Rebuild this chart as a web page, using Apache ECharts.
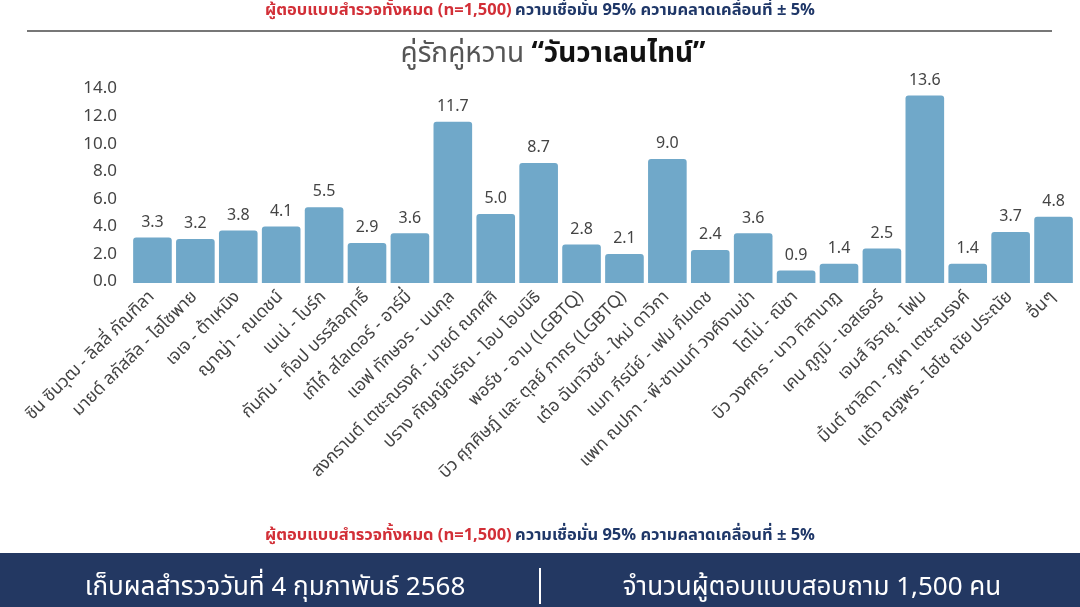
<!DOCTYPE html>
<html>
<head>
<meta charset="utf-8">
<script src="https://cdn.jsdelivr.net/npm/echarts@6/dist/echarts.min.js"></script>
<style>
  html, body { margin: 0; padding: 0; background: #fff; }
  #main { width: 1080px; height: 607px; }
</style>
</head>
<body>
<div id="main"></div>
<script>
var couples = [
  'ซิน ซินวุฒ - ลิลลี่ ภัณฑิลา',
  'มายด์ ลภัสลัล - ไฮโซพาย',
  'เจเจ - ต้าเหนิง',
  'ญาญ่า - ณเดชน์',
  'เนเน่ - โบร์ก',
  'กันกัน - ท็อป บรรลือฤทธิ์',
  'เก๋ไก๋ สไลเดอร์ - อาร์มี่',
  'แอฟ ทักษอร - นนกุล',
  'สงกรานต์ เตชะณรงค์ - มายด์ ณภศศิ',
  'ปราง กัญญ์ณรัณ - โอบ โอบนิธิ',
  'พอร์ช - อาม (LGBTQ)',
  'บิว ศุภศิษฏ์ และ ตุลย์ ภากร (LGBTQ)',
  'เต๋อ ฉันทวิชช์ - ใหม่ ดาวิกา',
  'แมท ภีรนีย์ - เฟม ภีมเดช',
  'แพท ณปภา - พี-ชานนท์ วงศ์งามข่า',
  'โตโน่ - ณิชา',
  'บิว วงศกร - นาว ทิสานาฏ',
  'เคน ภูภูมิ - เอสเธอร์',
  'เจมส์ จิรายุ - โฟม',
  'มิ้นต์ ชาลิดา - ภูผา เตชะณรงค์',
  'แต้ว ณฐพร - ไฮโซ ณัย ประณัย',
  'อื่นๆ'
];
var percents = [3.3, 3.2, 3.8, 4.1, 5.5, 2.9, 3.6, 11.7, 5.0, 8.7, 2.8, 2.1, 9.0, 2.4, 3.6, 0.9, 1.4, 2.5, 13.6, 1.4, 3.7, 4.8];

var FONT = "'Noto Sans Thai', 'Noto Sans', 'DejaVu Sans', sans-serif";
var noteText = '{r|ผู้ตอบแบบสำรวจทั้งหมด (n=1,500)} {b|ความเชื่อมั่น 95% ความคลาดเคลื่อนที่ ± 5%}';
var noteRich = {
  r: { fontSize: 16.5, fontWeight: 'bold', fill: '#d22f37', fontFamily: FONT },
  b: { fontSize: 16.5, fontWeight: 'bold', fill: '#1f3768', fontFamily: FONT }
};

var myChart = echarts.init(document.getElementById('main'));

var option = {
  backgroundColor: '#ffffff',
  textStyle: { fontFamily: FONT },
  grid: { left: 131, right: 5, top: 90, bottom: 324, containLabel: false },
  xAxis: {
    type: 'category',
    data: couples,
    axisLine: { show: false },
    axisTick: { show: false },
    axisLabel: {
      interval: 0,
      rotate: 45,
      fontSize: 17.5,
      color: '#444',
      margin: 12,
      fontFamily: FONT
    }
  },
  yAxis: {
    type: 'value',
    min: 0,
    max: 14,
    interval: 2,
    splitLine: { show: false },
    axisLine: { show: false },
    axisTick: { show: false },
    axisLabel: {
      fontSize: 17,
      color: '#444',
      margin: 14,
      fontFamily: FONT,
      formatter: function (v) { return v.toFixed(1); }
    }
  },
  series: [{
    type: 'bar',
    data: percents,
    barCategoryGap: '10%',
    itemStyle: { color: '#70a8c9', borderRadius: [3, 3, 0, 0] },
    label: {
      show: true,
      position: 'top',
      fontSize: 16,
      color: '#444',
      distance: 6,
      fontFamily: FONT,
      formatter: function (p) { return p.value.toFixed(1); }
    }
  }],
  graphic: [
    { type: 'text', left: 'center', top: 3, style: { text: noteText, rich: noteRich } },
    { type: 'rect', shape: { x: 27, y: 30, width: 1025, height: 2 }, style: { fill: '#777' } },
    {
      type: 'text', x: 553, y: 56,
      style: {
        text: '{a|คู่รักคู่หวาน }{b|“วันวาเลนไทน์”}',
        align: 'center', verticalAlign: 'middle',
        rich: {
          a: { fontSize: 28, fill: '#555', fontFamily: FONT },
          b: { fontSize: 28, fontWeight: 'bold', fill: '#111', fontFamily: FONT }
        }
      }
    },
    { type: 'text', left: 'center', top: 528, style: { text: noteText, rich: noteRich } },
    { type: 'rect', shape: { x: 0, y: 553, width: 1080, height: 54 }, style: { fill: '#233862' } },
    { type: 'rect', shape: { x: 539, y: 568, width: 2, height: 36 }, style: { fill: '#ffffff' } },
    {
      type: 'text', x: 275, y: 590,
      style: { text: 'เก็บผลสำรวจวันที่ 4 กุมภาพันธ์ 2568', fill: '#fff', fontSize: 26, fontFamily: FONT, align: 'center', verticalAlign: 'middle' }
    },
    {
      type: 'text', x: 812, y: 590,
      style: { text: 'จำนวนผู้ตอบแบบสอบถาม 1,500 คน', fill: '#fff', fontSize: 26, fontFamily: FONT, align: 'center', verticalAlign: 'middle' }
    }
  ]
};
myChart.setOption(option);
</script>
</body>
</html>
